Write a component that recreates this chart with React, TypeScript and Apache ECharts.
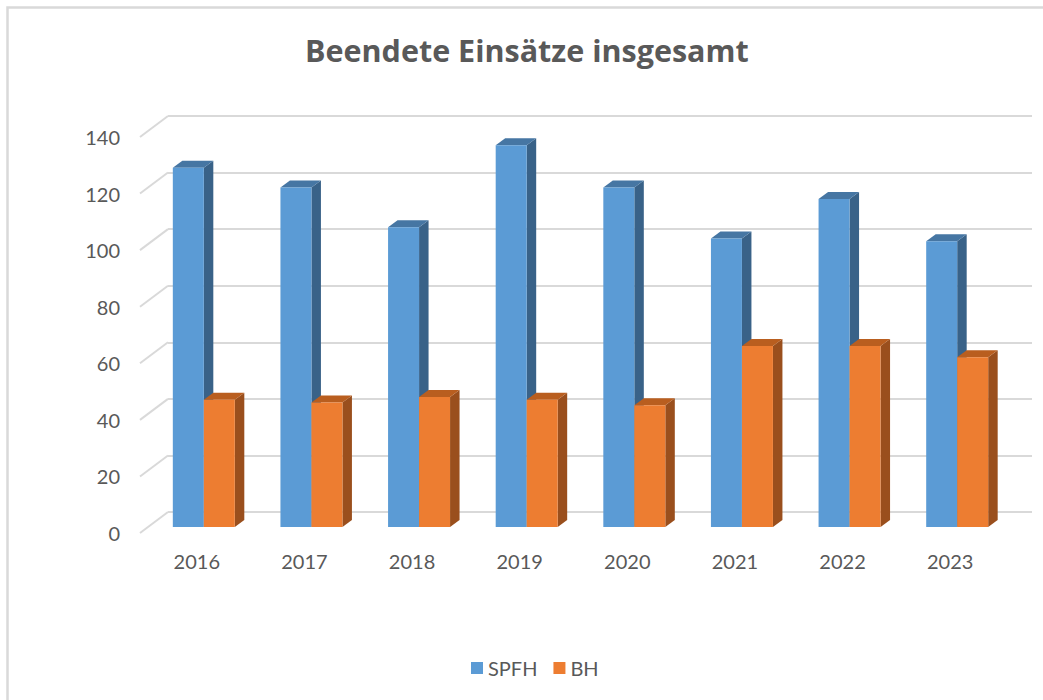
import React, { useEffect, useRef } from "react";
import * as echarts from "echarts";

const years = ["2016", "2017", "2018", "2019", "2020", "2021", "2022", "2023"];
const spfh = [127, 120, 106, 135, 120, 102, 116, 101];
const bh = [45, 44, 46, 45, 43, 64, 64, 60];
const yTicks = [0, 20, 40, 60, 80, 100, 120, 140];
const seriesNames = ["SPFH", "BH"];
const titleText = "Beendete Einsätze insgesamt";

const FONT = "Lato";
const TEXT = "#595959";

function makeRender(side: number, front: string, topC: string, sideC: string) {
  return (params: any, api: any) => {
    const idx = api.value(0);
    const v = api.value(1);
    const top = api.coord([idx, v]);
    const base = api.coord([idx, 0]);
    const band = api.size([1, 0])[0];
    const bw = band * 0.288;
    const x0 = side === 0 ? top[0] - bw : top[0];
    const x1 = x0 + bw;
    const yT = top[1];
    const yB = base[1];
    const dx = 9.5;
    const dy = -7;
    return {
      type: "group",
      children: [
        {
          type: "polygon",
          shape: { points: [[x1, yB], [x1 + dx, yB + dy], [x1 + dx, yT + dy], [x1, yT]] },
          style: { fill: sideC },
        },
        {
          type: "polygon",
          shape: { points: [[x0, yT], [x0 + dx, yT + dy], [x1 + dx, yT + dy], [x1, yT]] },
          style: { fill: topC },
        },
        {
          type: "rect",
          shape: { x: x0, y: yT, width: bw, height: yB - yT },
          style: { fill: front },
        },
      ],
    };
  };
}

export default function App() {
  const ref = useRef<HTMLDivElement>(null);
  useEffect(() => {
    if (!ref.current) return;
    const chart = echarts.init(ref.current, undefined, { renderer: "svg" });
    const H = 396;
    chart.setOption({
      animation: false,
      backgroundColor: "#ffffff",
      textStyle: { fontFamily: FONT },
      title: {
        text: titleText,
        left: 300,
        top: 29,
        textStyle: { fontFamily: "Open Sans", fontWeight: "bold", fontSize: 30.5, color: TEXT },
      },
      legend: {
        data: seriesNames,
        left: 466,
        top: 653,
        icon: "rect",
        itemWidth: 12,
        itemHeight: 12,
        itemGap: 16,
        textStyle: { fontFamily: FONT, fontSize: 20, color: TEXT },
      },
      graphic: [
        {
          type: "rect",
          shape: { x: 7.5, y: 7.5, width: 1200, height: 900 },
          style: { fill: "none", stroke: "#d9d9d9", lineWidth: 2.5 },
          silent: true,
        },
      ],
      grid: [
        { left: 168, top: 116, width: 864, height: H },
        { left: 150, top: 131, width: 861, height: H },
        { left: 143, top: 137, width: 861, height: H },
      ],
      xAxis: [
        { gridIndex: 0, type: "category", data: years, show: false },
        { gridIndex: 1, type: "category", data: years, show: false },
        {
          gridIndex: 2,
          type: "category",
          data: years,
          axisLine: { show: false },
          axisTick: { show: false },
          axisLabel: { margin: 18, fontFamily: FONT, fontSize: 20, color: TEXT },
        },
      ],
      yAxis: [
        {
          gridIndex: 0,
          type: "value",
          min: 0,
          max: 140,
          interval: 20,
          axisLabel: { show: false },
          axisLine: { show: false },
          axisTick: { show: false },
          splitLine: { show: true, lineStyle: { color: "#d9d9d9", width: 2 } },
        },
        { gridIndex: 1, type: "value", min: 0, max: 140, interval: 20, show: false },
        {
          gridIndex: 2,
          type: "value",
          min: 0,
          max: 140,
          interval: 20,
          axisLine: { show: false },
          axisTick: { show: false },
          splitLine: { show: false },
          axisLabel: { margin: 23, fontFamily: FONT, fontSize: 20, color: TEXT },
        },
      ],
      series: [
        {
          type: "custom",
          name: "ticks",
          xAxisIndex: 2,
          yAxisIndex: 2,
          silent: true,
          data: yTicks.map((t) => [0, t]),
          encode: { x: 0, y: 1 },
          renderItem: (params: any, api: any) => {
            const p = api.coord([0, api.value(1)]);
            const x = params.coordSys.x - 3;
            return {
              type: "line",
              shape: { x1: x, y1: p[1], x2: x + 28, y2: p[1] - 21 },
              style: { stroke: "#d9d9d9", lineWidth: 2 },
            };
          },
        },
        {
          type: "custom",
          name: "SPFH",
          xAxisIndex: 1,
          yAxisIndex: 1,
          itemStyle: { color: "#5B9BD5" },
          data: spfh.map((v, i) => [i, v]),
          encode: { x: 0, y: 1 },
          renderItem: makeRender(0, "#5B9BD5", "#4676A3", "#396288"),
        },
        {
          type: "custom",
          name: "BH",
          xAxisIndex: 1,
          yAxisIndex: 1,
          itemStyle: { color: "#ED7D31" },
          data: bh.map((v, i) => [i, v]),
          encode: { x: 0, y: 1 },
          renderItem: makeRender(1, "#ED7D31", "#B95E1F", "#9A4F1D"),
        },
      ],
    });
    return () => chart.dispose();
  }, []);
  return (
    <div
      ref={ref}
      style={{ position: "fixed", left: 0, top: 0, width: 1043, height: 700 }}
    />
  );
}
